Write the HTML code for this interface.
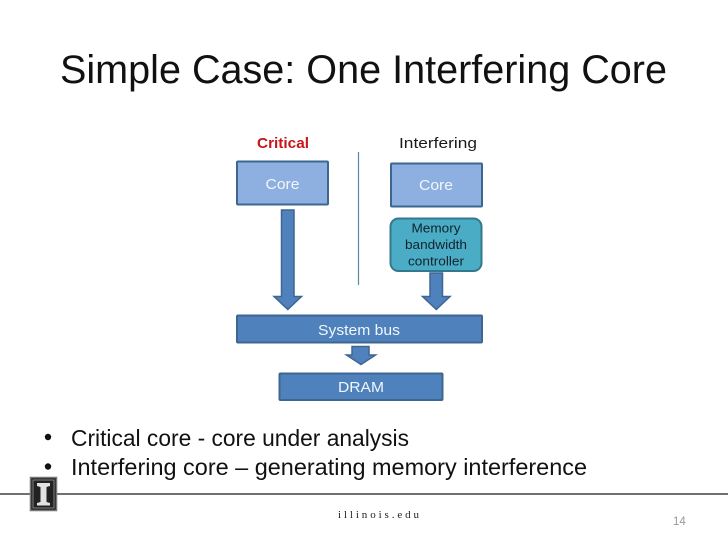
<!DOCTYPE html>
<html>
<head>
<meta charset="utf-8">
<style>
html,body{margin:0;padding:0;background:#fff;width:728px;height:546px;overflow:hidden}
svg{display:block}
text{font-family:"Liberation Sans",sans-serif}
</style>
</head>
<body>
<svg width="728" height="546" viewBox="0 0 728 546" xmlns="http://www.w3.org/2000/svg">
<rect width="728" height="546" fill="#fff"/>
<text x="60" y="83" font-size="40" fill="#111" textLength="607" lengthAdjust="spacingAndGlyphs">Simple Case: One Interfering Core</text>

<text x="257" y="148" font-size="15" font-weight="bold" fill="#c8141c" textLength="52" lengthAdjust="spacingAndGlyphs">Critical</text>
<text x="399" y="148" font-size="15" fill="#1a1a1a" textLength="78" lengthAdjust="spacingAndGlyphs">Interfering</text>

<line x1="358.5" y1="152" x2="358.5" y2="285" stroke="#5f88a8" stroke-width="1.2"/>

<rect x="237" y="161.500" width="91" height="43" fill="#8eb0e0" stroke="#3d6690" stroke-width="2" rx="1"/>
<text x="282.500" y="189" font-size="15" fill="#f2f6fb" text-anchor="middle" textLength="34" lengthAdjust="spacingAndGlyphs">Core</text>
<rect x="391" y="163.500" width="91" height="43" fill="#8eb0e0" stroke="#3d6690" stroke-width="2" rx="1"/>
<text x="436" y="190" font-size="15" fill="#f2f6fb" text-anchor="middle" textLength="34" lengthAdjust="spacingAndGlyphs">Core</text>

<rect x="390.500" y="218.500" width="91" height="52.500" rx="8" fill="#4bacc6" stroke="#33788c" stroke-width="2"/>
<text x="436" y="232.500" font-size="13" fill="#10232c" text-anchor="middle" textLength="49" lengthAdjust="spacingAndGlyphs">Memory</text>
<text x="436" y="249" font-size="13" fill="#10232c" text-anchor="middle" textLength="62" lengthAdjust="spacingAndGlyphs">bandwidth</text>
<text x="436" y="265.500" font-size="13" fill="#10232c" text-anchor="middle" textLength="56" lengthAdjust="spacingAndGlyphs">controller</text>

<polygon points="281.500,210 294,210 294,296.500 301.500,296.500 287.800,309.500 274,296.500 281.500,296.500" fill="#4f81bd" stroke="#3d6690" stroke-width="1.500"/>
<polygon points="430,273 442.500,273 442.500,296.500 450,296.500 436.300,309.500 422.500,296.500 430,296.500" fill="#4f81bd" stroke="#3d6690" stroke-width="1.500"/>

<rect x="237" y="315.500" width="245" height="27" fill="#4f81bd" stroke="#3d6690" stroke-width="2" rx="1"/>
<text x="359" y="335" font-size="15" fill="#f2f6fb" text-anchor="middle" textLength="82" lengthAdjust="spacingAndGlyphs">System bus</text>

<polygon points="352,346.500 369,346.500 369,355 375.500,355 361,364.500 346.500,355 352,355" fill="#4f81bd" stroke="#3d6690" stroke-width="1.500"/>

<rect x="279.500" y="373.500" width="163" height="26.500" fill="#4f81bd" stroke="#3d6690" stroke-width="2" rx="1"/>
<text x="361" y="392" font-size="15" fill="#f2f6fb" text-anchor="middle" textLength="46" lengthAdjust="spacingAndGlyphs">DRAM</text>

<circle cx="48" cy="437" r="3.200" fill="#111"/>
<circle cx="48" cy="466.500" r="3.200" fill="#111"/>
<text x="71" y="446" font-size="23" fill="#111" textLength="338" lengthAdjust="spacingAndGlyphs">Critical core - core under analysis</text>
<text x="71" y="475" font-size="23" fill="#111" textLength="516" lengthAdjust="spacingAndGlyphs">Interfering core – generating memory interference</text>

<line x1="0" y1="494" x2="728" y2="494" stroke="#404040" stroke-width="1.500"/>
<rect x="30.500" y="477.500" width="26" height="33" fill="#222" stroke="#777" stroke-width="1.500"/>
<rect x="33" y="480" width="21" height="28" fill="none" stroke="#aaa" stroke-width="0.700"/>
<polygon points="37,483 50,483 50,486 46.500,487 46.500,502 50,503 50,505.500 37,505.500 37,503 40.500,502 40.500,487 37,486" fill="#e2e2e2"/>

<text x="338" y="518" font-size="11" fill="#222" style="font-family:'Liberation Serif',serif" textLength="81" lengthAdjust="spacing">illinois.edu</text>
<text x="673" y="525" font-size="11.500" fill="#999">14</text>
</svg>
</body>
</html>
